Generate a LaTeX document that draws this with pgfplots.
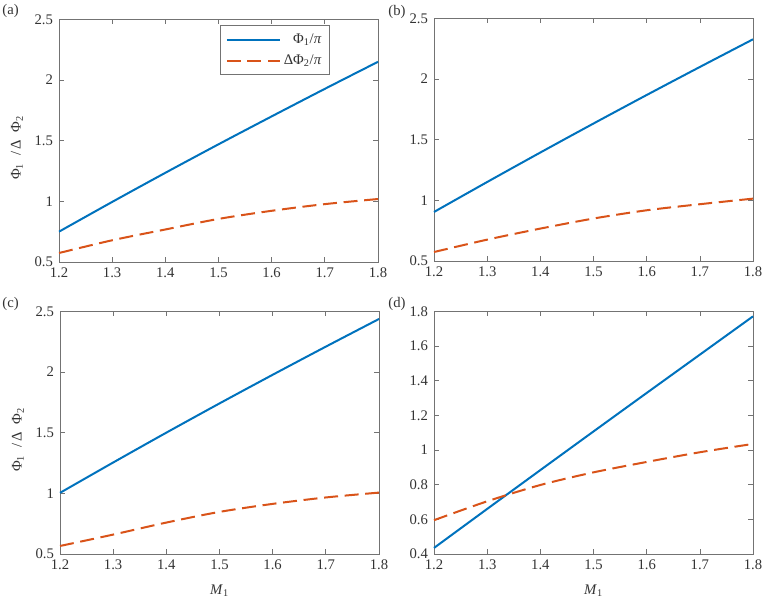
\documentclass[border=0pt]{standalone}
\usepackage{fontspec}
\setmainfont{Liberation Serif}
\usepackage{pgfplots}
\pgfplotsset{compat=1.18}
\definecolor{mblue}{rgb}{0,0.447,0.741}
\definecolor{morange}{rgb}{0.85,0.325,0.098}
\definecolor{axgray}{gray}{0.45}
\definecolor{txtgray}{gray}{0.2}
\newcommand{\fs}{\fontsize{11}{13}\selectfont}
\pgfplotsset{
  panel/.style={
    scale only axis, width=239.25pt, height=182pt,
    xmin=1.2, xmax=1.8, clip=false,
    xtick={1.2,1.3,...,1.8},
    axis line style={axgray, line width=0.5pt},
    tick style={axgray, line width=0.5pt},
    major tick length=3.5pt,
    tick align=inside,
    xtick pos=both, ytick pos=both,
    tick label style={font=\fs, text=txtgray},
    label style={font=\fs, text=txtgray},
    /pgf/number format/assume math mode=true,
    xticklabel style={yshift=-1pt},
    yticklabel style={xshift=-1pt},
    every axis plot/.append style={line width=1.5pt},
  },
  ylab/.style={ylabel={Φ\textsubscript{1}\enspace/\,Δ\enspace Φ\textsubscript{2}},
    ylabel style={at={(axis description cs:-0.132,0.47)}, anchor=center}},
  xlab/.style={xlabel={\textit{M}\textsubscript{1}},
    xlabel style={at={(axis description cs:0.5,-0.15)}, anchor=center}},
  dsh/.style={dash pattern=on 10.5pt off 5pt},
}
\pgfplotstableread{
x    b     r
1.2  0.750 0.574
1.3  0.995 0.679
1.4  1.235 0.768
1.5  1.470 0.855
1.6  1.700 0.922
1.7  1.927 0.977
1.8  2.150 1.019
}\tabA
\pgfplotstableread{
x    b     r
1.2  0.904 0.574
1.3  1.151 0.676
1.4  1.394 0.767
1.5  1.633 0.850
1.6  1.868 0.918
1.7  2.099 0.968
1.8  2.327 1.014
}\tabB
\pgfplotstableread{
x    b     r
1.2  1.004 0.566
1.3  1.254 0.660
1.4  1.500 0.759
1.5  1.741 0.847
1.6  1.977 0.913
1.7  2.209 0.966
1.8  2.437 1.006
}\tabC
\pgfplotstableread{
x    b     r
1.2  0.435 0.595
1.3  0.660 0.704
1.4  0.884 0.798
1.5  1.107 0.871
1.6  1.329 0.931
1.7  1.550 0.987
1.8  1.771 1.035
}\tabD
\begin{document}
\begin{tikzpicture}
\useasboundingbox (0,0) rectangle (573pt,454.5pt);
% (a)
\begin{axis}[panel, ylab, at={(44.25pt,258pt)}, anchor=south west,
  ymin=0.5, ymax=2.5, ytick={0.5,1,...,2.5},
  legend style={at={(axis description cs:0.505,0.975)}, anchor=north west,
    draw=axgray, line width=0.5pt, font=\fs,
    text=txtgray, cells={anchor=east}, row sep=3pt, inner xsep=4pt, inner ysep=4pt},
  legend image code/.code={\draw[#1, line width=1.5pt] (0pt,0pt) -- (40pt,0pt);}]
\addplot[mblue, smooth] table[x=x,y=b] {\tabA};
\addlegendentry{Φ\textsubscript{1}/\textit{π}}
\addplot[morange, smooth, dsh] table[x=x,y=r] {\tabA};
\addlegendentry{ΔΦ\textsubscript{2}/\textit{π}}
\node[font=\fs, text=txtgray] at (axis description cs:-0.152,1.035) {(a)};
\end{axis}
% (b)
\begin{axis}[panel, at={(325.5pt,258.75pt)}, anchor=south west,
  ymin=0.5, ymax=2.5, ytick={0.5,1,...,2.5}]
\addplot[mblue, smooth] table[x=x,y=b] {\tabB};
\addplot[morange, smooth, dsh] table[x=x,y=r] {\tabB};
\node[font=\fs, text=txtgray] at (axis description cs:-0.116,1.025) {(b)};
\end{axis}
% (c)
\begin{axis}[panel, ylab, xlab, at={(45pt,39pt)}, anchor=south west,
  ymin=0.5, ymax=2.5, ytick={0.5,1,...,2.5}]
\addplot[mblue, smooth] table[x=x,y=b] {\tabC};
\addplot[morange, smooth, dsh] table[x=x,y=r] {\tabC};
\node[font=\fs, text=txtgray] at (axis description cs:-0.155,1.03) {(c)};
\end{axis}
% (d)
\begin{axis}[panel, xlab, at={(325.5pt,39pt)}, anchor=south west,
  ymin=0.4, ymax=1.8, ytick={0.4,0.6,...,1.8},
  yticklabel style={/pgf/number format/fixed, /pgf/number format/precision=1}]
\addplot[mblue, smooth] table[x=x,y=b] {\tabD};
\addplot[morange, smooth, dsh] table[x=x,y=r] {\tabD};
\node[font=\fs, text=txtgray] at (axis description cs:-0.116,1.03) {(d)};
\end{axis}
\end{tikzpicture}
\end{document}
